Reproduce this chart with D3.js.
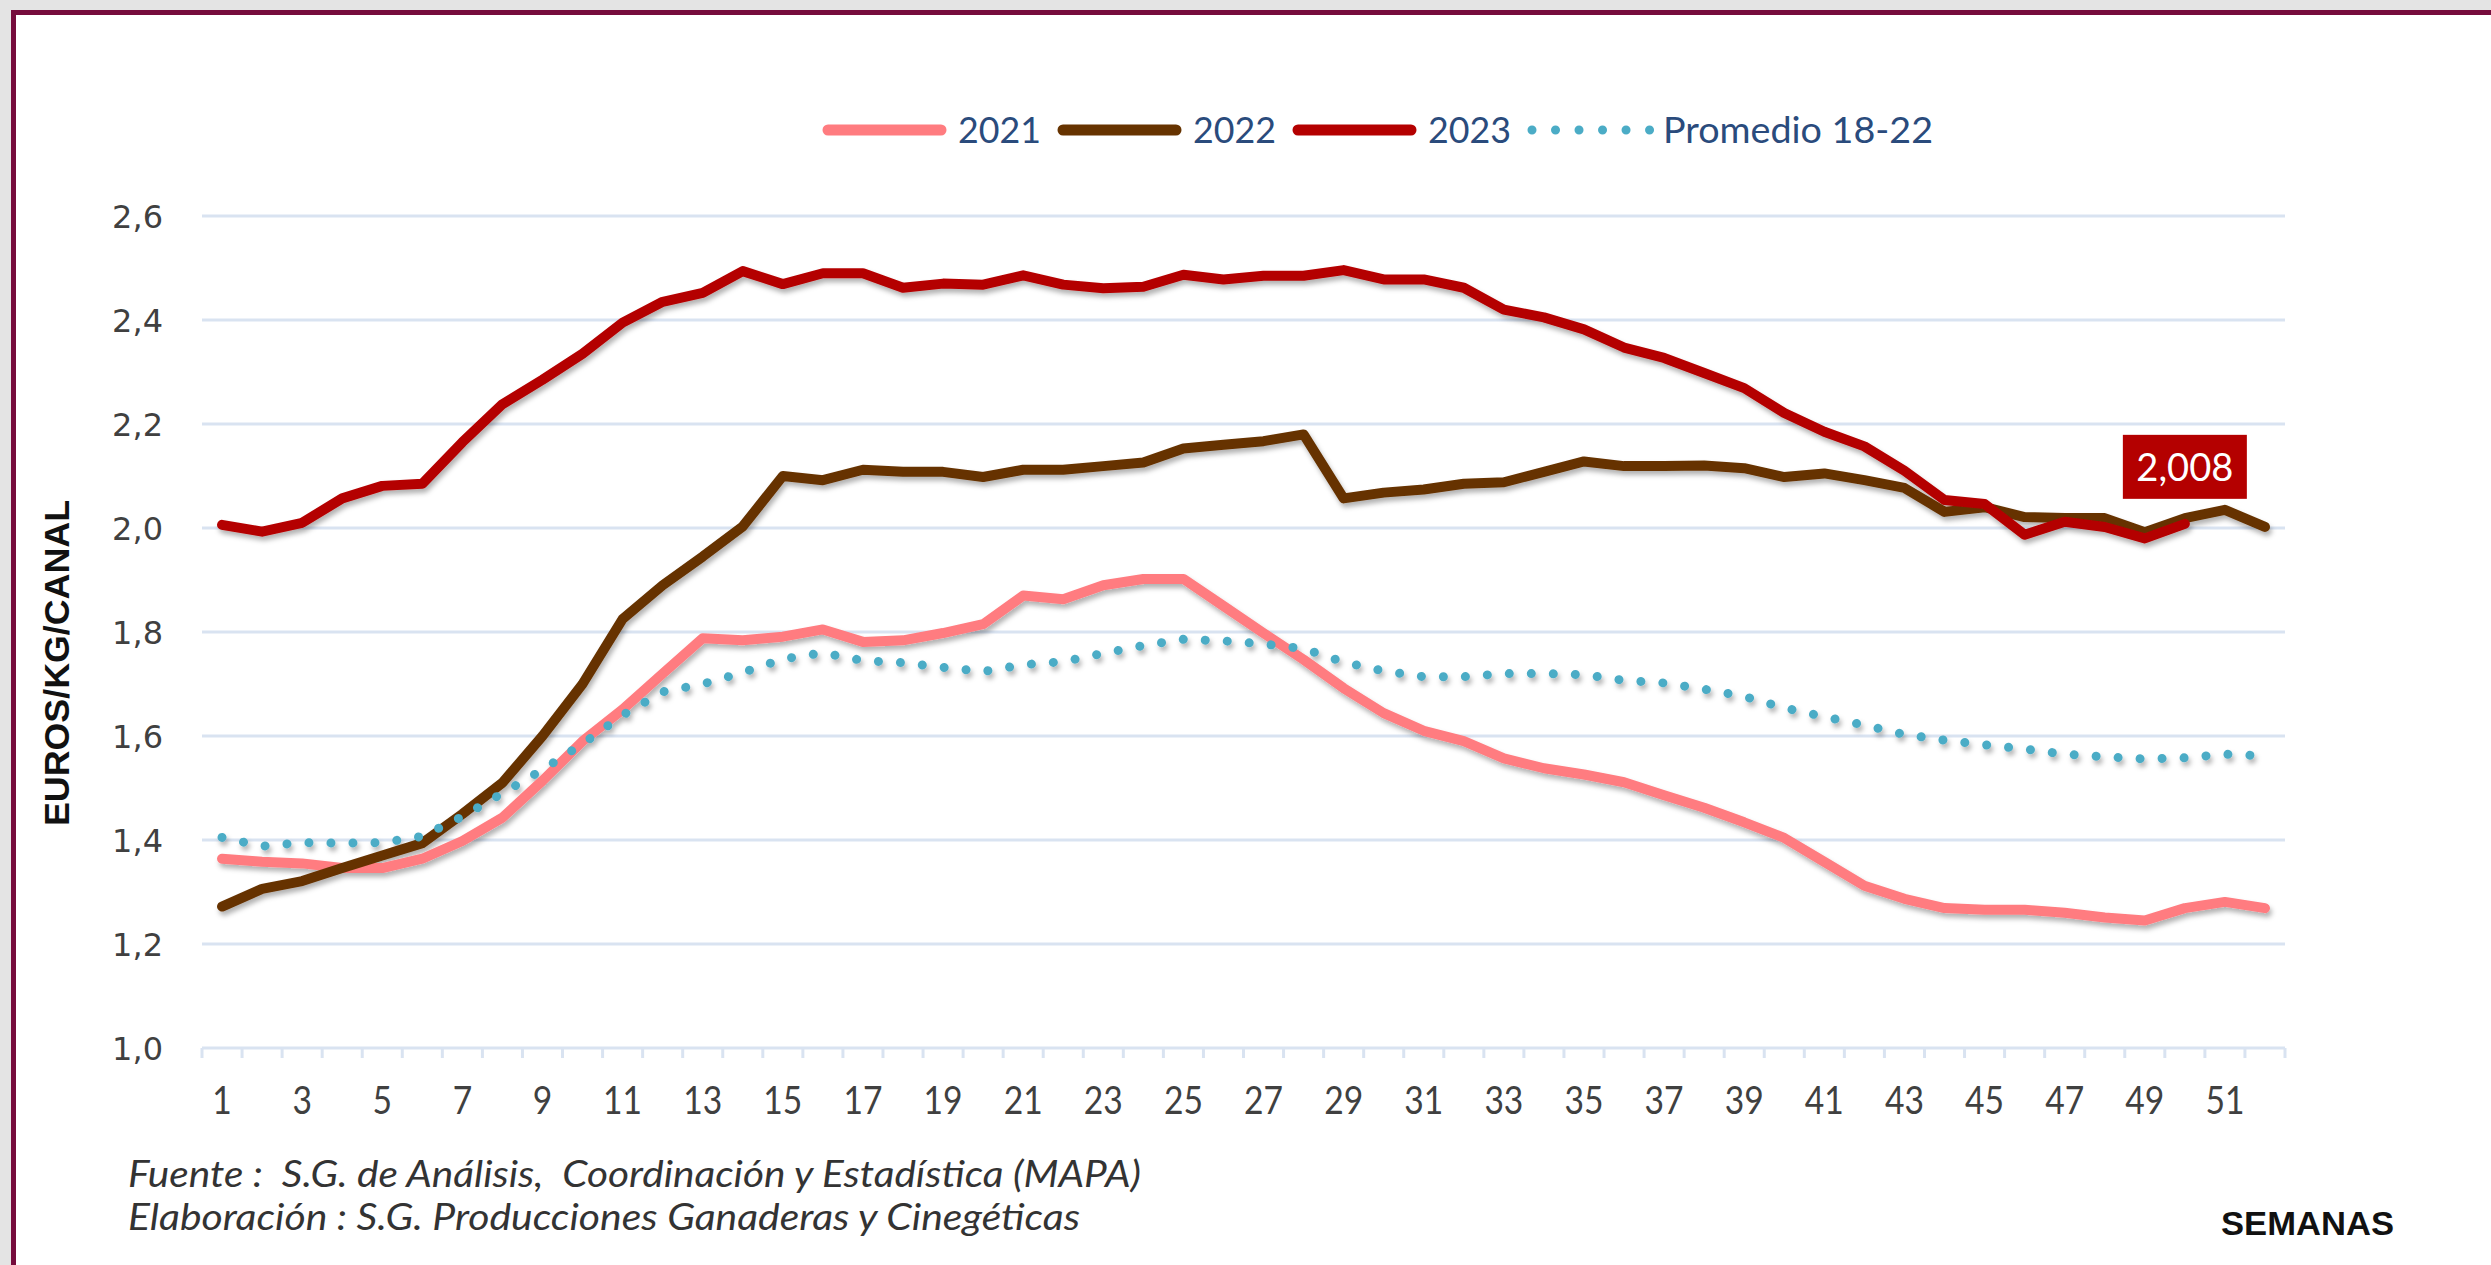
<!DOCTYPE html>
<html>
<head>
<meta charset="utf-8">
<script src="https://cdn.jsdelivr.net/npm/d3@7"></script>
<style>
  html, body { margin: 0; padding: 0; background: #e4e4e4; overflow: hidden; }
  svg { display: block; }
</style>
</head>
<body>
<svg id="chart" width="2491" height="1265"></svg>
<script>
// ---- data ----
const weeks = d3.range(1, 53);
const xTickLabels = d3.range(1, 53, 2);
const yTicks = [1.0, 1.2, 1.4, 1.6, 1.8, 2.0, 2.2, 2.4, 2.6];

const y2021 = [1.364, 1.358, 1.355, 1.346, 1.346, 1.364, 1.398, 1.443, 1.514, 1.590,
  1.651, 1.720, 1.788, 1.784, 1.791, 1.805, 1.781, 1.784, 1.798, 1.815,
  1.870, 1.863, 1.890, 1.902, 1.902, 1.850, 1.798, 1.747, 1.692, 1.644,
  1.610, 1.590, 1.557, 1.538, 1.526, 1.511, 1.486, 1.462, 1.434, 1.404,
  1.358, 1.312, 1.287, 1.269, 1.266, 1.266, 1.260, 1.251, 1.245, 1.269,
  1.281, 1.269];

const y2022 = [1.272, 1.306, 1.321, 1.346, 1.370, 1.394, 1.450, 1.510, 1.600, 1.700,
  1.825, 1.890, 1.945, 2.003, 2.100, 2.092, 2.112, 2.108, 2.108, 2.098,
  2.112, 2.112, 2.119, 2.126, 2.153, 2.160, 2.167, 2.180, 2.057, 2.068,
  2.074, 2.085, 2.088, 2.108, 2.128, 2.119, 2.119, 2.120, 2.115, 2.098,
  2.105, 2.092, 2.077, 2.031, 2.040, 2.021, 2.019, 2.019, 1.992, 2.019,
  2.035, 2.002];

const y2023 = [2.006, 1.993, 2.010, 2.057, 2.081, 2.085, 2.165, 2.238, 2.285, 2.335,
  2.395, 2.435, 2.452, 2.494, 2.469, 2.490, 2.490, 2.462, 2.470, 2.468,
  2.486, 2.468, 2.461, 2.464, 2.487, 2.478, 2.485, 2.485, 2.496, 2.478,
  2.478, 2.462, 2.420, 2.405, 2.382, 2.347, 2.327, 2.298, 2.269, 2.221,
  2.185, 2.157, 2.110, 2.054, 2.046, 1.987, 2.012, 2.002, 1.980, 2.008];

const yPromedio = [1.405, 1.388, 1.395, 1.394, 1.395, 1.407, 1.445, 1.490, 1.535, 1.585,
  1.640, 1.685, 1.700, 1.722, 1.748, 1.760, 1.745, 1.741, 1.732, 1.724,
  1.737, 1.743, 1.759, 1.774, 1.786, 1.783, 1.777, 1.768, 1.742, 1.725,
  1.714, 1.714, 1.720, 1.720, 1.718, 1.707, 1.702, 1.690, 1.676, 1.654,
  1.637, 1.621, 1.603, 1.592, 1.583, 1.575, 1.565, 1.560, 1.556, 1.558,
  1.565, 1.562];

const seriesNames = ["2021", "2022", "2023", "Promedio 18-22"];
const seriesValues = [y2021, y2022, y2023, yPromedio];
const seriesColors = ["#ff7c80", "#663300", "#b40000", "#4bacc6"];

const lastLabelWeek = 50;
const lastLabelValue = 2.008;

const sourceLines = [
  "Fuente :  S.G. de Análisis,  Coordinación y Estadística (MAPA)",
  "Elaboración : S.G. Producciones Ganaderas y Cinegéticas"
];

// ---- setup ----
const svg = d3.select("#chart");
const W = 2491, H = 1265;
const plot = { left: 202, right: 2285, top: 216, bottom: 1048 };

const locale = d3.formatLocale({ decimal: ",", thousands: ".", grouping: [3], currency: ["", " €"] });
const fmt1 = locale.format(".1f");
const fmt3 = locale.format(".3f");

const x = d3.scaleBand().domain(weeks).range([plot.left, plot.right]).padding(0);
const xc = w => x(w) + x.bandwidth() / 2;
const y = d3.scaleLinear().domain([1.0, 2.6]).range([plot.bottom, plot.top]);

const defs = svg.append("defs");
defs.append("filter")
    .attr("id", "shadow")
    .attr("filterUnits", "userSpaceOnUse")
    .attr("x", 0).attr("y", 0).attr("width", W).attr("height", H)
  .append("feDropShadow")
    .attr("dx", 2).attr("dy", 4)
    .attr("stdDeviation", 2.5)
    .attr("flood-color", "#000")
    .attr("flood-opacity", 0.3);

// frame
svg.append("rect").attr("x", 11).attr("y", 10).attr("width", W).attr("height", H).attr("fill", "#760c3c");
svg.append("rect").attr("x", 16).attr("y", 15).attr("width", W).attr("height", H).attr("fill", "#ffffff");

// gridlines
const GRID = "#d9e3f1";
svg.append("g").selectAll("line")
  .data(yTicks)
  .join("line")
    .attr("x1", plot.left).attr("x2", plot.right)
    .attr("y1", d => y(d)).attr("y2", d => y(d))
    .attr("stroke", GRID)
    .attr("stroke-width", 3);

// x tick marks at category boundaries
const boundaries = weeks.map(w => x(w)).concat([x.range()[1]]);
svg.append("g").selectAll("line")
  .data(boundaries)
  .join("line")
    .attr("x1", d => d).attr("x2", d => d)
    .attr("y1", plot.bottom).attr("y2", plot.bottom + 10)
    .attr("stroke", GRID)
    .attr("stroke-width", 3);

// y axis labels
svg.append("g").selectAll("text")
  .data(yTicks)
  .join("text")
    .attr("x", 163)
    .attr("y", d => y(d))
    .attr("dy", "0.36em")
    .attr("text-anchor", "end")
    .style("font-family", "'DejaVu Sans', Verdana, sans-serif")
    .style("font-size", "32px")
    .attr("fill", "#404040")
    .text(d => fmt1(d));

// x axis labels (odd weeks)
svg.append("g").selectAll("text")
  .data(xTickLabels)
  .join("text")
    .attr("x", d => xc(d))
    .attr("y", 1100)
    .attr("dy", "0.36em")
    .attr("text-anchor", "middle")
    .style("font-family", "Lato, 'Open Sans', sans-serif")
    .style("font-size", "38px")
    .attr("fill", "#404040")
    .attr("textLength", d => String(d).length * 19.5)
    .attr("lengthAdjust", "spacingAndGlyphs")
    .text(d => d);

// lines
const line = d3.line()
  .x((d, i) => xc(weeks[i]))
  .y(d => y(d));

const linesG = svg.append("g").attr("filter", "url(#shadow)");
seriesNames.forEach((name, k) => {
  const dotted = k === 3;
  linesG.append("path")
    .datum(seriesValues[k])
    .attr("d", line)
    .attr("fill", "none")
    .attr("stroke", seriesColors[k])
    .attr("stroke-width", dotted ? 9 : 10)
    .attr("stroke-linejoin", "round")
    .attr("stroke-linecap", "round")
    .attr("stroke-dasharray", dotted ? "0.01 22" : null);
});

// end label
const lx = xc(lastLabelWeek), ly = y(lastLabelValue);
svg.append("rect")
  .attr("x", lx - 62).attr("y", ly - 89)
  .attr("width", 124).attr("height", 64)
  .attr("fill", "#b40000");
svg.append("text")
  .attr("x", lx).attr("y", ly - 57)
  .attr("dy", "0.36em")
  .attr("text-anchor", "middle")
  .style("font-family", "Lato, 'Open Sans', sans-serif")
  .style("font-size", "38px")
  .attr("fill", "#ffffff")
  .attr("textLength", 97)
  .attr("lengthAdjust", "spacingAndGlyphs")
  .text(fmt3(lastLabelValue));

// legend
const legendY = 130;
const legendTextW = [83, 83, 83, 270];
let lxPos = 822;
const legend = svg.append("g");
seriesNames.forEach((name, k) => {
  const dotted = k === 3;
  legend.append("line")
    .attr("x1", lxPos + (dotted ? 5 : 6)).attr("x2", lxPos + (dotted ? 126 : 119))
    .attr("y1", legendY).attr("y2", legendY)
    .attr("stroke", seriesColors[k])
    .attr("stroke-width", dotted ? 9 : 11)
    .attr("stroke-linecap", "round")
    .attr("stroke-dasharray", dotted ? "0.01 23.5" : null);
  legend.append("text")
    .attr("x", lxPos + 136).attr("y", legendY)
    .attr("dy", "0.36em")
    .style("font-family", "Lato, 'Open Sans', sans-serif")
    .style("font-size", "37px")
    .attr("fill", "#2a4b7c")
    .attr("textLength", legendTextW[k])
    .attr("lengthAdjust", "spacingAndGlyphs")
    .text(name);
  lxPos += 136 + legendTextW[k] + 16;
});

// axis titles
svg.append("text")
  .attr("transform", "translate(69, 663) rotate(-90)")
  .attr("text-anchor", "middle")
  .style("font-family", "'Liberation Sans', Arial, sans-serif")
  .style("font-weight", "bold")
  .style("font-size", "35px")
  .attr("fill", "#111")
  .attr("textLength", 326)
  .attr("lengthAdjust", "spacingAndGlyphs")
  .text("EUROS/KG/CANAL");

svg.append("text")
  .attr("x", 2221).attr("y", 1235)
  .style("font-family", "'Liberation Sans', Arial, sans-serif")
  .style("font-weight", "bold")
  .style("font-size", "34px")
  .attr("fill", "#111")
  .attr("textLength", 173)
  .attr("lengthAdjust", "spacingAndGlyphs")
  .text("SEMANAS");

// source notes
const sourceW = [1013, 952];
svg.append("g").selectAll("text")
  .data(sourceLines)
  .join("text")
    .attr("x", 128)
    .attr("y", (d, i) => 1187 + i * 43)
    .style("white-space", "pre")
    .style("font-family", "Lato, 'Open Sans', sans-serif")
    .style("font-style", "italic")
    .style("font-size", "37px")
    .attr("fill", "#333")
    .attr("textLength", (d, i) => sourceW[i])
    .attr("lengthAdjust", "spacingAndGlyphs")
    .text(d => d);
</script>
</body>
</html>
